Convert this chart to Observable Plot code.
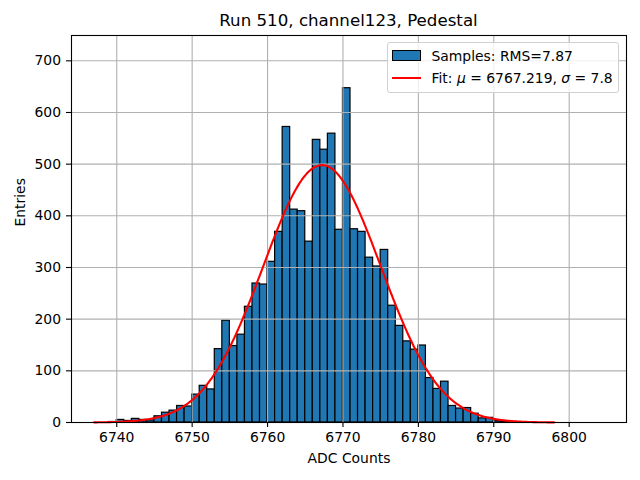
<!DOCTYPE html>
<html>
<head>
<meta charset="utf-8">
<script src="https://cdn.jsdelivr.net/npm/d3@7"></script>
<script src="https://cdn.jsdelivr.net/npm/@observablehq/plot@0.6"></script>
<style>
  body { margin: 0; background: #fff; }
  #wrap { position: relative; width: 640px; height: 480px; font-family: "DejaVu Sans", sans-serif; color: #000; }
  #title { position: absolute; left: 71px; width: 555px; top: 11px; text-align: center; font-size: 16.67px; line-height: 20px; }
  #legend { position: absolute; left: 386.5px; top: 42px; width: 230px; height: 49px; border: 1px solid #d0d0d0; border-radius: 3px; background: rgba(255,255,255,0.8); }
  #legend .t { position: absolute; left: 44px; font-size: 13.9px; line-height: 16px; white-space: nowrap; }
  #legend .patch { position: absolute; left: 4.5px; top: 6.5px; width: 27px; height: 9px; background: #1f77b4; border: 1.2px solid #000; }
  #legend .line { position: absolute; left: 4.5px; top: 33.5px; width: 29px; height: 2px; background: #ff0000; }
</style>
</head>
<body>
<div id="wrap">
  <div id="chart"></div>
  <div id="title">Run 510, channel123, Pedestal</div>
  <div id="legend">
    <div class="patch"></div>
    <div class="t" style="top:4.5px">Samples: RMS=7.87</div>
    <div class="line"></div>
    <div class="t" style="top:27.2px">Fit: <i>μ</i> = 6767.219, <i>σ</i> = 7.8</div>
  </div>
</div>
<script>
// Histogram bins (left edges, width 1 ADC count) and entries
const binLeft = [6739, 6740, 6741, 6742, 6743, 6744, 6745, 6746, 6747, 6748, 6749,
  6750, 6751, 6752, 6753, 6754, 6755, 6756, 6757, 6758, 6759,
  6760, 6761, 6762, 6763, 6764, 6765, 6766, 6767, 6768, 6769,
  6770, 6771, 6772, 6773, 6774, 6775, 6776, 6777, 6778, 6779,
  6780, 6781, 6782, 6783, 6784, 6785, 6786, 6787, 6788, 6789,
  6790, 6791, 6792];
const entries = [1, 5, 3, 7, 5, 4, 12, 19, 23, 32, 31,
  54, 71, 64, 142, 197, 148, 170, 224, 269, 267,
  311, 369, 572, 412, 409, 350, 547, 528, 559, 373,
  647, 374, 369, 319, 302, 334, 226, 187, 157, 141,
  149, 86, 65, 79, 32, 27, 28, 17, 8, 9,
  3, 2, 1];
const binWidth = 1;

// Gaussian fit parameters shown in the legend
const fitMu = 6767.219;
const fitSigma = 7.8;
const fitRange = [6737, 6798];

const xTicks = [6740, 6750, 6760, 6770, 6780, 6790, 6800];
const yTicks = [0, 100, 200, 300, 400, 500, 600, 700];

const bars = binLeft.map((b, i) => ({x1: b, x2: b + binWidth, y: entries[i]}));
const total = d3.sum(entries);
const amp = total * binWidth / (fitSigma * Math.sqrt(2 * Math.PI));
const fitX = d3.range(fitRange[0], fitRange[1] + 0.001, 0.1);
const fit = fitX.map(x => ({x, y: amp * Math.exp(-0.5 * ((x - fitMu) / fitSigma) ** 2)}));

const chart = Plot.plot({
  width: 640,
  height: 480,
  marginLeft: 71,
  marginRight: 14,
  marginTop: 35,
  marginBottom: 58,
  style: {fontFamily: "DejaVu Sans, sans-serif", fontSize: "13.9px", color: "#000", background: "#fff"},
  x: {domain: [6734, 6807.6], label: null},
  y: {domain: [0, 749], label: null},
  marks: [
    Plot.rectY(bars, {x1: "x1", x2: "x2", y: "y", fill: "#1f77b4", stroke: "#000", strokeWidth: 1.2}),
    Plot.gridX(xTicks, {stroke: "#b0b0b0", strokeOpacity: 1, strokeWidth: 1.1}),
    Plot.gridY(yTicks, {stroke: "#b0b0b0", strokeOpacity: 1, strokeWidth: 1.1}),
    Plot.line(fit, {x: "x", y: "y", stroke: "#ff0000", strokeWidth: 2.1}),
    Plot.frame({stroke: "#000", strokeWidth: 1.1}),
    Plot.axisX(xTicks, {anchor: "bottom", tickSize: 5, tickPadding: 5, tickFormat: d => String(d), label: null, strokeWidth: 1.1}),
    Plot.axisY(yTicks, {anchor: "left", tickSize: 5, tickPadding: 5.5, tickFormat: d => String(d), label: null, strokeWidth: 1.1}),
    Plot.text(["ADC Counts"], {frameAnchor: "bottom", lineAnchor: "bottom", dy: 40, fontSize: 13.9, fill: "#000"}),
    Plot.text(["Entries"], {frameAnchor: "left", dx: -51, dy: -2.5, rotate: -90, fontSize: 13.9, fill: "#000"})
  ]
});
document.getElementById("chart").appendChild(chart);
</script>
</body>
</html>
